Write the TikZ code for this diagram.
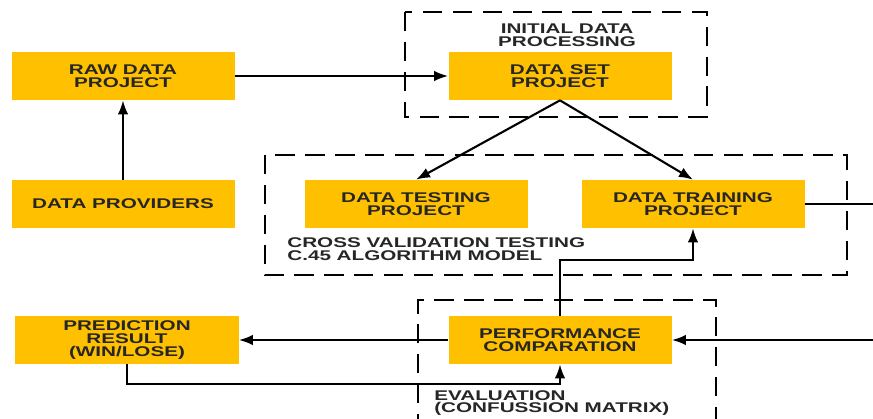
\documentclass[tikz,border=0pt]{standalone}
\usepackage{fontspec}
\setmainfont{Liberation Sans}[FakeStretch=1.47]
\usetikzlibrary{arrows.meta, positioning}
\definecolor{boxgold}{HTML}{FFC000}

\begin{document}
\begin{tikzpicture}[
    font=\fontsize{8}{7.3}\selectfont\bfseries,
    box/.style={fill=boxgold, text=black!85, align=center, inner sep=0pt, minimum width=4.46cm, minimum height=0.96cm},
    label/.style={text=black!85, inner sep=0pt},
    arrow/.style={-{Latex[length=8pt, width=6pt]}, line width=1.2pt},
    link/.style={line width=1.2pt},
    group/.style={line width=1.6pt, dash pattern=on 11pt off 6pt}
]
\useasboundingbox (0,0) rectangle (17.46,8.36);

% Groups
\draw[group] (8.1,8.12) rectangle (14.14,6.02);
\draw[group] (5.3,5.26) rectangle (16.94,2.86);
\draw[group] (8.36,-0.3) rectangle (14.32,2.36);

% Nodes
\node[box] (raw) at (2.46,6.84) {RAW DATA\\PROJECT};
\node[box] (providers) at (2.46,4.28) {DATA PROVIDERS};
\node[box] (dataset) at (11.2,6.84) {DATA SET\\PROJECT};
\node[box] (testing) at (8.32,4.28) {DATA TESTING\\PROJECT};
\node[box] (training) at (13.86,4.28) {DATA TRAINING\\PROJECT};
\node[box] (performance) at (11.2,1.56) {PERFORMANCE\\COMPARATION};
\node[box] (prediction) at (2.54,1.56) {PREDICTION\\RESULT\\(WIN/LOSE)};

\node[label, align=center] (initial) at (11.34,7.66) {INITIAL DATA\\PROCESSING};
\node[label, align=left, anchor=west] (crossval) at (5.74,3.38) {CROSS VALIDATION TESTING\\C.45 ALGORITHM MODEL};
\node[label, align=left, anchor=west] (evaluation) at (8.68,0.3) {EVALUATION\\(CONFUSSION MATRIX)};

\coordinate (trainout) at (17.46,4.28);
\coordinate (perfin) at (17.46,1.56);

% Arrows
\draw[arrow] (raw) -- (dataset);
\draw[arrow] (providers) -- (raw);
\draw[arrow] (dataset.south) -- (testing.north);
\draw[arrow] (dataset.south) -- (training.north);
\draw[link] (training) -- (trainout);
\draw[arrow] (perfin) -- (performance);
\draw[arrow] (performance) -- (prediction);
\draw[arrow] (performance.north) -- ++(0,1.12) -| (training.south);
\draw[arrow] (prediction.south) -- ++(0,-0.4) -| (performance.south);

\end{tikzpicture}
\end{document}
